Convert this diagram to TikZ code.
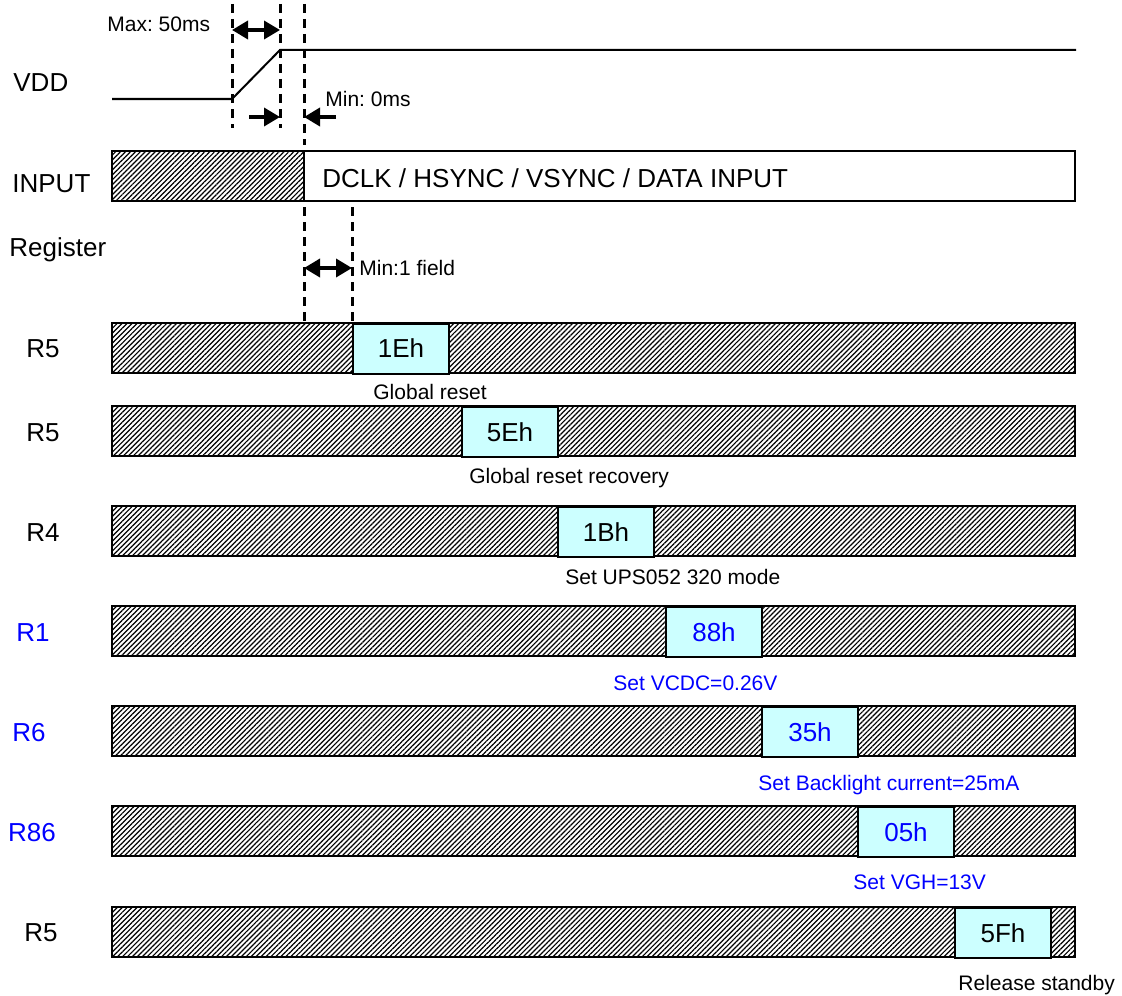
\documentclass[tikz,border=0pt]{standalone}
\usepackage{fontspec}
\setmainfont{Liberation Sans}
\usetikzlibrary{patterns.meta,arrows.meta}
\definecolor{boxcyan}{HTML}{CCFFFF}
\definecolor{regblue}{HTML}{0000FF}
\frenchspacing
\begin{document}
\begin{tikzpicture}[x=0.5pt,y=-0.5pt,
  big/.style={font=\fontsize{13}{15}\selectfont, inner sep=0pt, text height=9.3pt, text depth=0pt},
  small/.style={font=\fontsize{10.5}{12}\selectfont, inner sep=0pt, text height=7.5pt, text depth=0pt},
  hatchbar/.style={draw=black, line width=1pt, pattern={Lines[angle=45,distance=1.75pt,line width=0.6pt]}},
  plainbar/.style={draw=black, line width=1pt, fill=white},
  regbox/.style={big, draw=black, line width=1pt, fill=boxcyan, minimum width=48pt, minimum height=25pt, anchor=north west},
  dashline/.style={line width=1.5pt, dash pattern=on 4.5pt off 3pt},
  onearrow/.style={line width=1.75pt, -{Triangle[length=8pt,width=9pt]}},
  twoarrow/.style={line width=1.75pt, {Triangle[length=8pt,width=9pt]}-{Triangle[length=8pt,width=9pt]}},
  signal/.style={line width=1pt},
  bluetxt/.style={text=regblue}
]
\useasboundingbox (0,0) rectangle (1122,995);

% ---- labels on the left ----
\node[big, anchor=west] (vddlbl) at (13,82) {VDD};
\node[big, anchor=west] (inlbl) at (12,183) {INPUT};
\node[big, anchor=west] (reglbl) at (9,247) {Register};

% ---- timing coordinates ----
\coordinate (d1t) at (232,4);   \coordinate (d1b) at (232,128);
\coordinate (d2t) at (280,4);   \coordinate (d2b) at (280,128);
\coordinate (d3t) at (304,4);   \coordinate (d3b) at (304,145);
\coordinate (d3u) at (304,207); \coordinate (d3l) at (304,322);
\coordinate (d4u) at (352,207); \coordinate (d4l) at (352,322);

\draw[dashline] (d1t) -- (d1b);
\draw[dashline] (d2t) -- (d2b);
\draw[dashline] (d3t) -- (d3b);
\draw[dashline] (d3u) -- (d3l);
\draw[dashline] (d4u) -- (d4l);

% ---- VDD waveform ----
\coordinate (v0) at (112,99);
\coordinate (v1) at (232,99);
\coordinate (v2) at (280,50);
\coordinate (v3) at (1076,50);
\draw[signal] (v0) -- (v1) -- (v2) -- (v3);

% ---- dimension arrows ----
\coordinate (maxa) at (232,30); \coordinate (maxb) at (280,30);
\draw[twoarrow] (maxa) -- (maxb);
\node[small, anchor=west] (maxlbl) at (107,24) {Max: 50ms};

\coordinate (m0a) at (249,117); \coordinate (m0b) at (280,117);
\coordinate (m0c) at (336,117); \coordinate (m0d) at (304,117);
\draw[onearrow] (m0a) -- (m0b);
\draw[onearrow] (m0c) -- (m0d);
\node[small, anchor=west] (minlbl) at (325,99) {Min: 0ms};

\coordinate (fa) at (304,268); \coordinate (fb) at (352,268);
\draw[twoarrow] (fa) -- (fb);
\node[small, anchor=west] (fieldlbl) at (359,268) {Min:1 field};

% ---- INPUT bar ----
\draw[hatchbar] (112,151) rectangle (304,201);
\draw[plainbar] (304,151) rectangle (1075,201);
\node[big, anchor=west] (dclk) at (322,178) {DCLK / HSYNC / VSYNC / DATA INPUT};

% ---- register rows ----
% R5 (1Eh)
\draw[hatchbar] (112,322.5) rectangle (1075,372.5);
\node[regbox] (b1) at (352,322.5) {1Eh};
\node[big] (r1) at (43,348) {R5};
\node[small, anchor=west] (t1) at (373,392) {Global reset};

% R5 (5Eh)
\draw[hatchbar] (112,406) rectangle (1075,456);
\node[regbox] (b2) at (461,406) {5Eh};
\node[big] (r2) at (43,432) {R5};
\node[small, anchor=west] (t2) at (469,476) {Global reset recovery};

% R4 (1Bh)
\draw[hatchbar] (112,506) rectangle (1075,556);
\node[regbox] (b3) at (557,506) {1Bh};
\node[big] (r3) at (43,532) {R4};
\node[small, anchor=west] (t3) at (565,577) {Set UPS052 320 mode};

% R1 (88h)
\draw[hatchbar] (112,606) rectangle (1075,656);
\node[regbox, bluetxt] (b4) at (665,606) {88h};
\node[big, bluetxt] (r4) at (33,632) {R1};
\node[small, bluetxt, anchor=west] (t4) at (613,683) {Set VCDC=0.26V};

% R6 (35h)
\draw[hatchbar] (112,706) rectangle (1075,756);
\node[regbox, bluetxt] (b5) at (761,706) {35h};
\node[big, bluetxt] (r5) at (29,732) {R6};
\node[small, bluetxt, anchor=west] (t5) at (758,783) {Set Backlight current=25mA};

% R86 (05h)
\draw[hatchbar] (112,806) rectangle (1075,856);
\node[regbox, bluetxt] (b6) at (857,806) {05h};
\node[big, bluetxt] (r6) at (32,832) {R86};
\node[small, bluetxt, anchor=west] (t6) at (853,882) {Set VGH=13V};

% R5 (5Fh)
\draw[hatchbar] (112,907) rectangle (1075,957);
\node[regbox] (b7) at (954,907) {5Fh};
\node[big] (r7) at (41,932) {R5};
\node[small, anchor=west] (t7) at (958,983) {Release standby};
\end{tikzpicture}
\end{document}
